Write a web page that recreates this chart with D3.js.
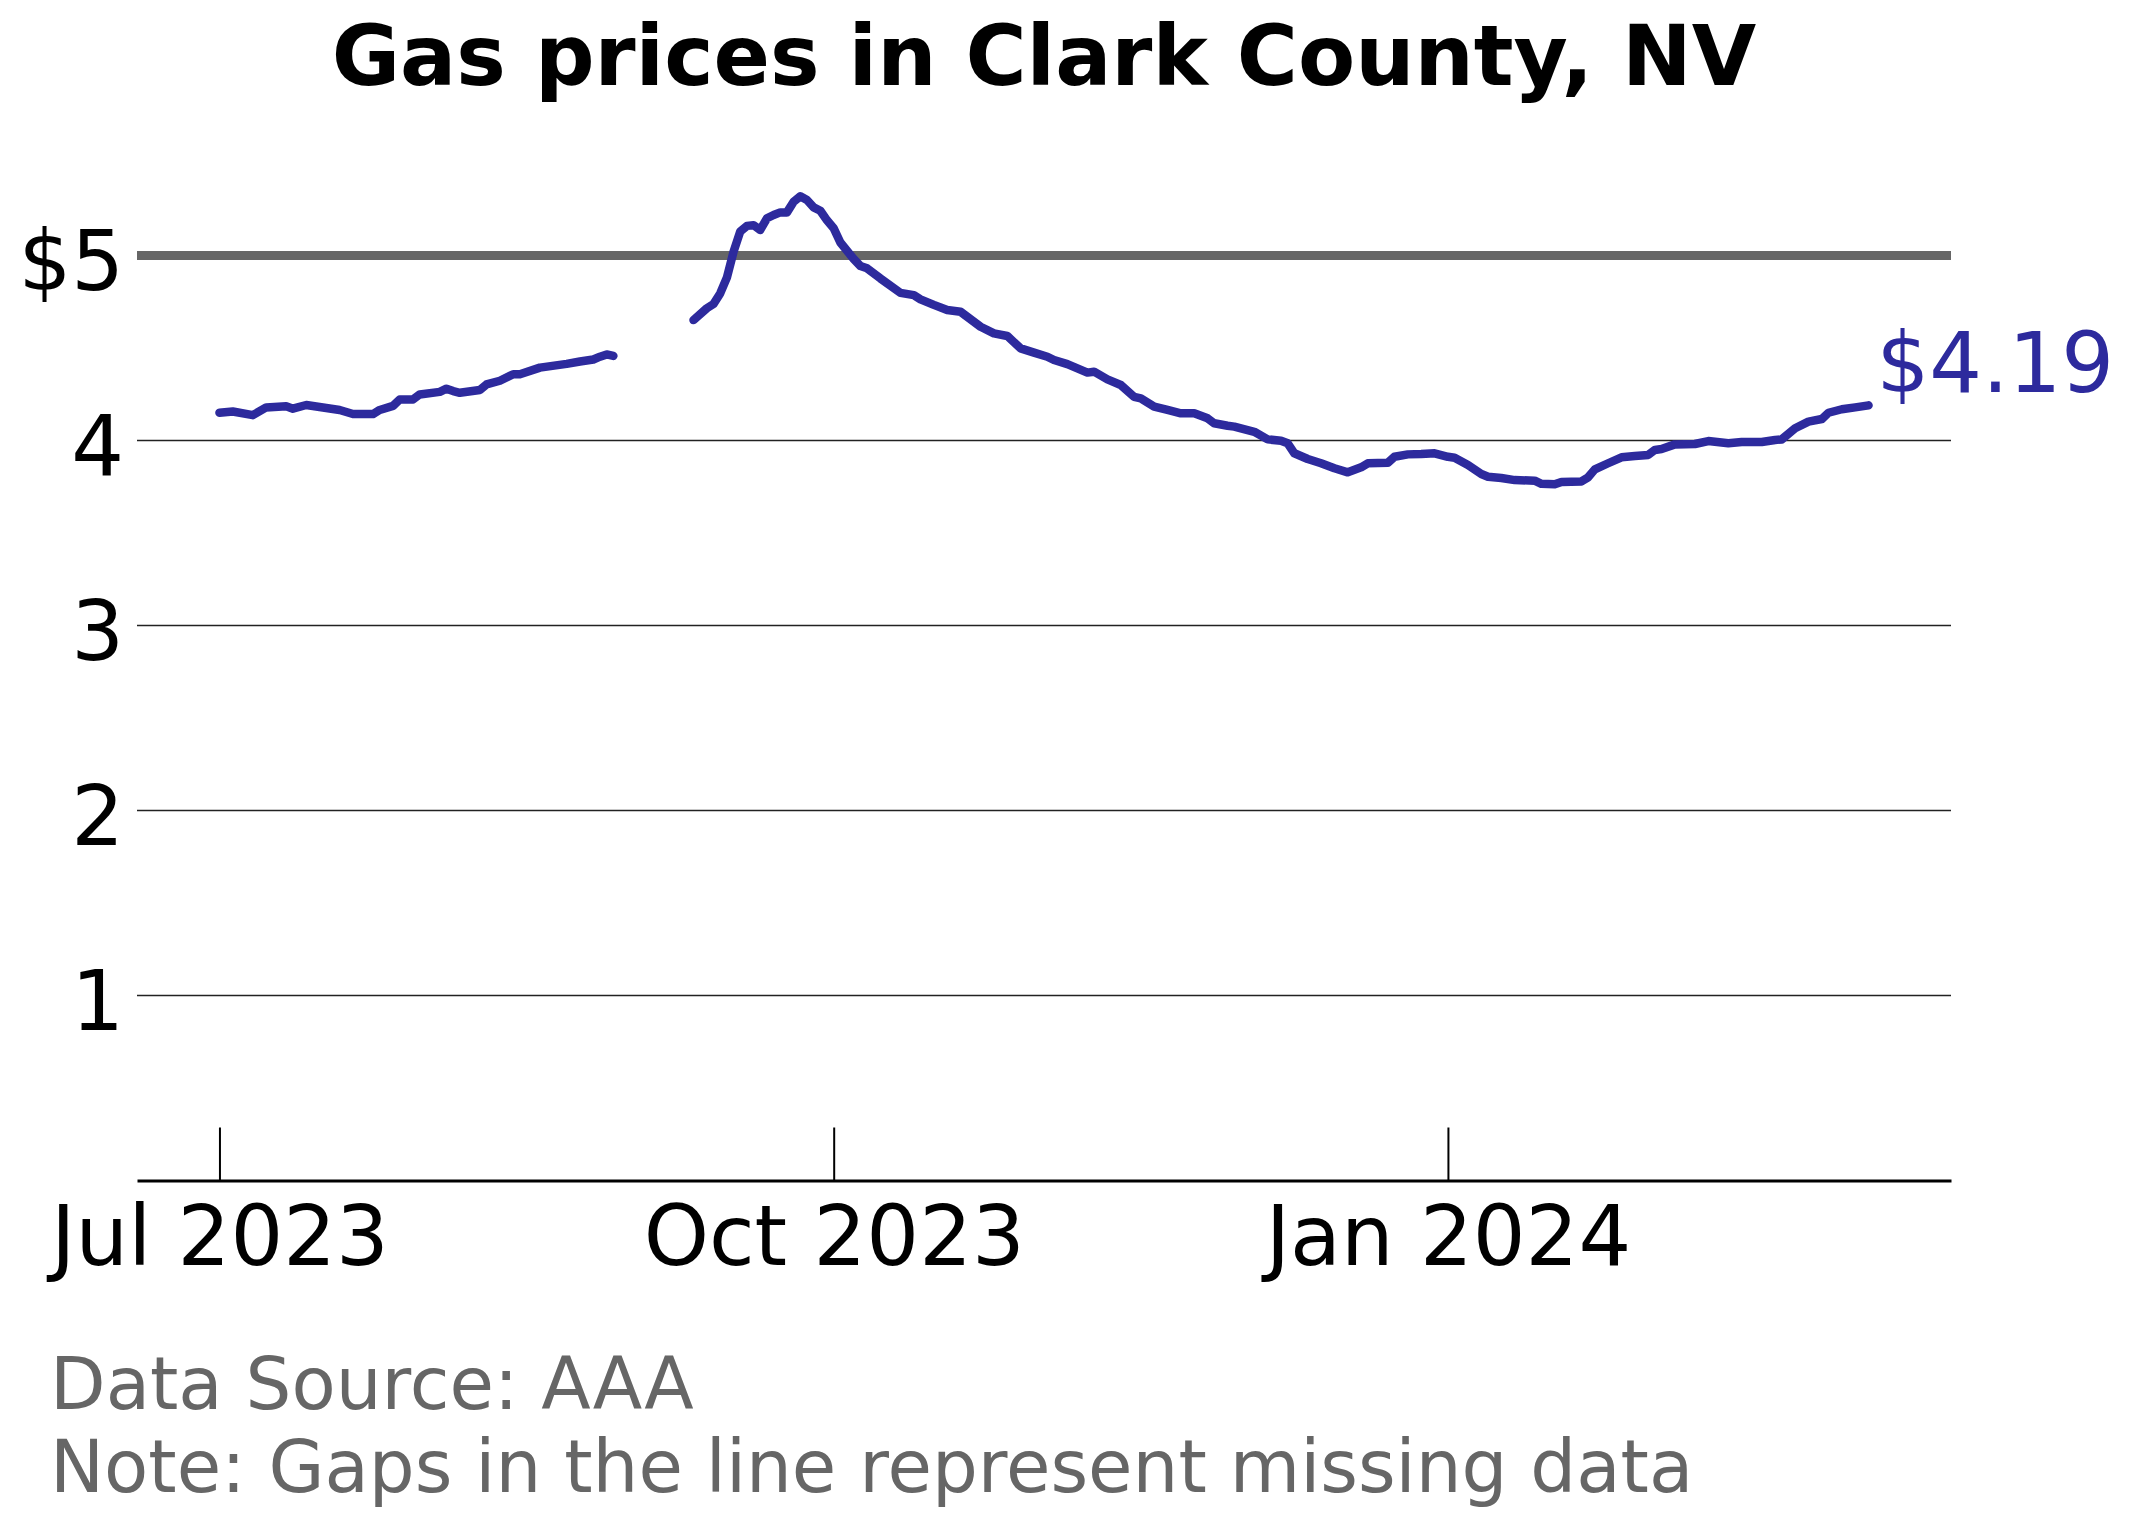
<!DOCTYPE html>
<meta charset="utf-8">
<style>
  body { margin: 0; background: #fff; }
  text { font-family: "DejaVu Sans", sans-serif; }
</style>
<body>
<script src="https://d3js.org/d3.v7.min.js"></script>
<script>
// gas price readings, Clark County NV (null = missing day, breaks the line)
var dates = [
  "2023-07-01","2023-07-03","2023-07-06","2023-07-08","2023-07-11","2023-07-12","2023-07-14",
  "2023-07-19","2023-07-21","2023-07-24","2023-07-25","2023-07-27","2023-07-28","2023-07-30",
  "2023-07-31","2023-08-03","2023-08-04","2023-08-05","2023-08-06","2023-08-09","2023-08-10",
  "2023-08-12","2023-08-14","2023-08-15","2023-08-18","2023-08-22","2023-08-24","2023-08-26",
  "2023-08-27","2023-08-28","2023-08-29",
  "2023-09-01",
  "2023-09-10","2023-09-12","2023-09-13","2023-09-14","2023-09-15","2023-09-16","2023-09-17",
  "2023-09-18","2023-09-19","2023-09-20","2023-09-21","2023-09-22","2023-09-23","2023-09-24",
  "2023-09-25","2023-09-26","2023-09-27","2023-09-28","2023-09-29","2023-09-30","2023-10-01",
  "2023-10-02","2023-10-04","2023-10-05","2023-10-06","2023-10-08","2023-10-11","2023-10-13",
  "2023-10-14","2023-10-16","2023-10-18","2023-10-20","2023-10-21","2023-10-23","2023-10-25",
  "2023-10-27","2023-10-29","2023-10-31","2023-11-02","2023-11-03","2023-11-05","2023-11-08",
  "2023-11-09","2023-11-11","2023-11-13","2023-11-15","2023-11-16","2023-11-18","2023-11-20",
  "2023-11-22","2023-11-24","2023-11-26","2023-11-27","2023-11-29","2023-11-30","2023-12-03",
  "2023-12-05","2023-12-07","2023-12-08","2023-12-09","2023-12-11","2023-12-13","2023-12-15",
  "2023-12-17","2023-12-19","2023-12-20","2023-12-23","2023-12-24","2023-12-26","2023-12-28",
  "2023-12-30","2024-01-01","2024-01-02","2024-01-04","2024-01-06","2024-01-07","2024-01-09",
  "2024-01-11","2024-01-14","2024-01-15","2024-01-17","2024-01-18","2024-01-21","2024-01-22",
  "2024-01-23","2024-01-25","2024-01-27","2024-01-29","2024-01-31","2024-02-01","2024-02-02",
  "2024-02-04","2024-02-07","2024-02-09","2024-02-12","2024-02-14","2024-02-17","2024-02-19",
  "2024-02-20","2024-02-22","2024-02-24","2024-02-26","2024-02-27","2024-02-29","2024-03-02",
  "2024-03-04"
];
var prices = [
  4.150,4.157,4.137,4.179,4.185,4.172,4.192,
  4.165,4.143,4.143,4.165,4.187,4.222,4.222,
  4.249,4.263,4.280,4.267,4.258,4.273,4.303,
  4.323,4.358,4.358,4.394,4.414,4.427,4.438,
  4.453,4.465,4.457,
  null,
  4.651,4.715,4.738,4.795,4.880,5.020,5.130,
  5.160,5.164,5.138,5.201,5.219,5.233,5.233,
  5.290,5.320,5.300,5.260,5.242,5.190,5.147,
  5.070,4.981,4.943,4.931,4.876,4.798,4.786,
  4.763,4.733,4.705,4.696,4.669,4.615,4.579,
  4.565,4.498,4.475,4.453,4.435,4.413,4.367,
  4.372,4.330,4.300,4.236,4.228,4.183,4.165,
  4.147,4.147,4.120,4.093,4.080,4.075,4.047,
  4.006,3.999,3.985,3.931,3.900,3.877,3.850,
  3.828,3.855,3.877,3.880,3.912,3.925,3.927,
  3.931,3.912,3.907,3.868,3.819,3.804,3.797,
  3.786,3.783,3.766,3.763,3.776,3.779,3.801,
  3.844,3.877,3.909,3.916,3.922,3.949,3.954,
  3.979,3.981,3.997,3.985,3.992,3.992,4.003,
  4.006,4.066,4.102,4.116,4.150,4.169,4.179,
  4.190
];
var yTickValues = [1, 2, 3, 4, 5];
var yTickLabels = ["1", "2", "3", "4", "$5"];
var xTickDates = ["2023-07-01", "2023-10-01", "2024-01-01"];
var refLine = 5;

var W = 2132, H = 1524,
    margin = {top: 181.5, right: 181, bottom: 343.5, left: 137},
    width = W - margin.left - margin.right,
    height = H - margin.top - margin.bottom,
    lineColor = "#2d2a9d";

var parse = d3.timeParse("%Y-%m-%d");
var data = dates.map(function(d, i){ return {date: parse(d), price: prices[i]}; });

// 5% padding either side like a default plot
var ext = d3.extent(data, function(d){ return d.date; }),
    pad = (ext[1] - ext[0]) * 0.05;
var x = d3.scaleTime()
  .domain([new Date(+ext[0] - pad), new Date(+ext[1] + pad)])
  .range([0, width]);
var y = d3.scaleLinear().domain([0, 5.4]).range([height, 0]);

var svg = d3.select("body").append("svg")
  .attr("width", W).attr("height", H)
  .style("background", "#fff");

svg.append("text")
  .attr("x", margin.left + width / 2).attr("y", 85)
  .attr("text-anchor", "middle")
  .attr("font-size", 83.3).attr("font-weight", "bold")
  .text("Gas prices in Clark County, NV");

var g = svg.append("g").attr("transform", "translate(" + margin.left + "," + margin.top + ")");

// grid lines, the $5 one heavy and grey
g.selectAll(".grid").data(yTickValues).enter().append("line")
  .attr("class", "grid")
  .attr("x1", 0).attr("x2", width)
  .attr("y1", function(d){ return y(d); }).attr("y2", function(d){ return y(d); })
  .attr("stroke", function(d){ return d === refLine ? "#666" : "#222"; })
  .attr("stroke-width", function(d){ return d === refLine ? 9 : 1.4; });

// y labels
var yAxis = g.append("g")
  .call(d3.axisLeft(y).tickValues(yTickValues).tickSize(0).tickPadding(13)
    .tickFormat(function(d, i){ return yTickLabels[i]; }));
yAxis.select(".domain").remove();
yAxis.selectAll("text")
  .attr("font-size", 83).attr("font-family", "DejaVu Sans").attr("fill", "#000")
  .attr("dy", "0.41em");

// x axis, ticks pointing up
var xAxis = g.append("g")
  .attr("transform", "translate(0," + height + ")")
  .call(d3.axisBottom(x).tickValues(xTickDates.map(parse))
    .tickSizeInner(-53).tickSizeOuter(0).tickPadding(26)
    .tickFormat(d3.timeFormat("%b %Y")));
xAxis.select(".domain").attr("stroke", "#000").attr("stroke-width", 3);
xAxis.selectAll(".tick line").attr("stroke", "#000").attr("stroke-width", 2);
xAxis.selectAll("text")
  .attr("font-size", 83).attr("font-family", "DejaVu Sans").attr("fill", "#000");

var line = d3.line()
  .defined(function(d){ return d.price != null; })
  .x(function(d){ return x(d.date); })
  .y(function(d){ return y(d.price); });

g.append("path").datum(data)
  .attr("d", line)
  .attr("fill", "none")
  .attr("stroke", lineColor)
  .attr("stroke-width", 8.5)
  .attr("stroke-linecap", "round")
  .attr("stroke-linejoin", "round");

// label on last value
var last = data[data.length - 1];
g.append("text")
  .attr("x", x(last.date) + 8).attr("y", y(last.price) - 13)
  .attr("font-size", 83).attr("fill", lineColor)
  .text("$" + d3.format(".2f")(last.price));

// notes
svg.append("text").attr("x", 50).attr("y", 1409)
  .attr("font-size", 72.3).attr("fill", "#666")
  .text("Data Source: AAA");
svg.append("text").attr("x", 50).attr("y", 1492)
  .attr("font-size", 72.3).attr("fill", "#666")
  .text("Note: Gaps in the line represent missing data");
</script>
</body>
